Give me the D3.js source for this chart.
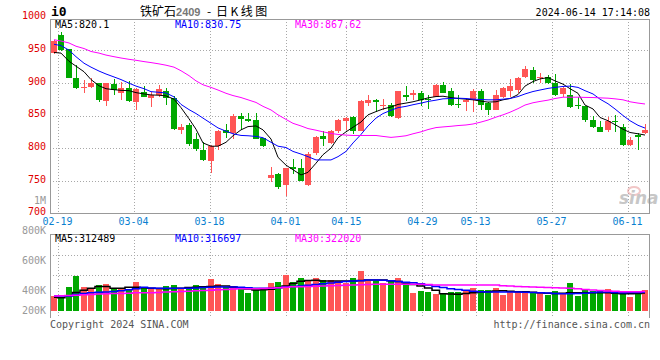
<!DOCTYPE html>
<html>
<head>
<meta charset="utf-8">
<script src="https://cdn.jsdelivr.net/npm/d3@7/dist/d3.min.js"></script>
<style>
  body { margin: 0; background: #fff; }
  svg { display: block; }
  text { font-family: "DejaVu Sans Mono", monospace; font-size: 10px; }
</style>
</head>
<body>
<svg id="chart" width="660" height="360"></svg>
<script>
// daily bars, 2024-02-08 .. 2024-06-14
const dates = [
  "02-08", "02-19", "02-20", "02-21", "02-22", "02-23", "02-26", "02-27", "02-28", "02-29",
  "03-01", "03-04", "03-05", "03-06", "03-07", "03-08", "03-11", "03-12", "03-13", "03-14",
  "03-15", "03-18", "03-19", "03-20", "03-21", "03-22", "03-25", "03-26", "03-27", "03-28",
  "03-29", "04-01", "04-02", "04-03", "04-08", "04-09", "04-10", "04-11", "04-12", "04-15",
  "04-16", "04-17", "04-18", "04-19", "04-22", "04-23", "04-24", "04-25", "04-26", "04-29",
  "04-30", "05-06", "05-07", "05-08", "05-09", "05-10", "05-13", "05-14", "05-15", "05-16",
  "05-17", "05-20", "05-21", "05-22", "05-23", "05-24", "05-27", "05-28", "05-29", "05-30",
  "05-31", "06-03", "06-04", "06-05", "06-06", "06-07", "06-11", "06-12", "06-13", "06-14"
];

const open = [
  945, 973, 951.5, 907, 893, 893, 899.5, 871.5, 898.5, 885,
  892, 870, 886.5, 876.5, 881.5, 888, 877.5, 827.5, 836, 813.5,
  796.5, 780.5, 804, 828.5, 823.5, 848.5, 845, 843.5, 815, 755,
  761, 744, 770.5, 769.5, 744, 793, 818.5, 808, 827, 841,
  847.5, 827, 869, 874, 865, 866.5, 846, 881, 881.5, 884,
  875.5, 879, 897, 887.5, 867.5, 870, 874, 887.5, 869, 859,
  878, 888, 889, 908.5, 919.5, 907, 909.5, 899.5, 883, 881.5,
  866.5, 864, 842.5, 832.5, 828.5, 841, 832.5, 805.5, 820, 822.5
];
const high = [
  965, 978, 952, 927, 904.5, 908, 900.5, 900, 905.5, 902,
  903, 892, 895.5, 886.5, 896.5, 892, 880, 837.5, 838.5, 823.5,
  809, 805.5, 828.5, 837.5, 852.5, 854, 854, 854, 816, 771.5,
  762.5, 769.5, 783, 783, 794.5, 818.5, 826, 828.5, 844.5, 847,
  848.5, 874, 881.5, 875.5, 875.5, 869, 887.5, 895.5, 889, 887.5,
  881.5, 898.5, 902, 892, 881.5, 877.5, 890.5, 890.5, 870, 889,
  893, 905.5, 908.5, 925.5, 924.5, 915.5, 912, 913.5, 895.5, 898.5,
  879, 865, 850, 842, 847.5, 851.5, 837.5, 817, 823.5, 837.5
];
const low = [
  944, 949, 907, 891, 885, 892, 870, 864, 881.5, 874,
  870, 859, 878, 863, 879, 866.5, 828.5, 821, 803, 795.5,
  780.5, 761.5, 797, 816, 813.5, 828.5, 839.5, 813.5, 802, 747.5,
  737.5, 727, 760, 749, 742.5, 789, 804, 807, 823.5, 828.5,
  821, 826, 865, 855, 859, 847, 844.5, 871.5, 874, 865,
  860.5, 878, 884, 864, 861.5, 856.5, 855, 858, 850.5, 858,
  876.5, 878, 884, 907, 900.5, 899.5, 898.5, 880, 878, 861.5,
  860, 839.5, 831, 824.5, 824.5, 824.5, 804, 804, 797, 821
];
const close = [
  964, 950, 908, 892, 893.5, 900.5, 874, 899.5, 889, 892,
  871.5, 890.5, 879, 881.5, 891, 876.5, 830, 832, 807, 798,
  781.5, 804, 827, 823.5, 850, 844.5, 841, 814.5, 804, 758.5,
  740, 769.5, 767.5, 750, 791.5, 817, 814.5, 827, 843.5, 846,
  827, 871.5, 874, 870, 866.5, 848.5, 887.5, 878, 885, 874,
  873.5, 897, 885, 865.5, 866, 874, 887.5, 865.5, 858, 881.5,
  892, 895.5, 908, 920.5, 904.5, 908.5, 899.5, 881.5, 892, 863,
  864, 842.5, 832.5, 824.5, 841, 839.5, 805.5, 812, 817.5, 828.5
];

const ma5 = [
  946.5, 945.5, 933, 925.5, 917, 905, 895.5, 891, 889.5, 888.5,
  888, 885, 883, 881.5, 881, 880, 875, 862, 845, 829,
  808, 803, 803, 809, 819, 828, 833, 834, 828, 814,
  786, 774, 767, 759, 763, 777, 790, 800, 816, 825,
  832, 840, 851, 856, 860, 863, 867, 869, 871, 874,
  877, 879, 879.5, 877.5, 876, 875, 874, 872, 870.5, 871,
  874, 876, 882, 895, 902, 906, 908, 903, 898, 891,
  884, 866, 860, 847, 842, 836, 829, 824, 822, 820.1
];
const ma10 = [
  959, 957, 950, 940, 930, 924, 918, 913.5, 909, 905,
  899.5, 895, 891, 886.5, 885.5, 884.5, 878.5, 867, 859, 853,
  846, 838, 831, 826, 822, 819.5, 819, 818, 816, 809,
  803, 801, 795, 791, 787, 782, 782, 782, 787, 795,
  808, 821, 834, 846, 853, 858, 862, 864, 866.5, 869,
  871.5, 873.5, 875.5, 876, 876.5, 876, 875, 874.5, 874, 874,
  875, 876, 879, 883, 886.7, 889, 891.5, 893, 894.5, 895,
  893, 888, 883, 875, 868, 860, 850, 842, 835, 830.75
];
const ma30 = [
  966, 964, 961, 956, 952.5, 948, 945.5, 942.5, 940, 938,
  936, 934.5, 932.5, 931, 929, 927, 924, 918.5, 911, 903,
  897, 893, 889, 884, 880.5, 877.5, 874, 870, 864, 858.5,
  851, 844, 838, 834, 830, 827.5, 825, 822.5, 821, 820,
  819.4, 819.4, 819.4, 819.4, 818, 816.5, 817.5, 819, 822, 825,
  828.5, 831.5, 832.5, 833.5, 834.6, 835.5, 837, 840, 843, 847.5,
  851, 855, 860.5, 866, 869.5, 871.5, 873.5, 876, 878, 878,
  878, 877.7, 877.5, 877, 876.5, 875.5, 874, 871, 869, 867.62
];

// volume, thousand lots
const volume = [
  292, 285, 352, 425, 352, 337, 365, 374, 337, 347,
  341, 385, 347, 341, 341, 359, 365, 341, 352, 365,
  359, 407, 374, 352, 359, 337, 314, 337, 337, 380,
  385, 432, 385, 414, 396, 414, 396, 396, 392, 380,
  414, 458, 392, 392, 380, 392, 414, 380, 314, 325,
  321, 303, 303, 321, 321, 332, 347, 332, 332, 347,
  299, 325, 325, 314, 321, 310, 299, 325, 303, 380,
  292, 341, 325, 325, 341, 310, 310, 288, 320, 335
];
const volMa5 = [
  284, 280, 293, 315, 330, 343, 356, 356, 344, 344,
  351, 350, 347, 344, 342, 341, 342, 344, 348, 351,
  353, 355, 358, 358, 352, 345, 338, 332, 334, 337,
  348, 359, 375, 390, 396, 397, 392, 392, 392, 392,
  392, 396, 399, 399, 399, 394, 388, 378, 368, 358,
  346, 330, 307, 305, 303, 309, 314, 318, 321, 325,
  327, 324, 321, 320, 317, 314, 311, 308, 310, 313,
  314, 314, 314, 314, 314, 310, 307, 307, 308, 312.5
];
const volMa10 = [
  292, 292, 292, 302, 309, 314, 317, 318, 322, 327,
  333, 340, 350, 346, 344, 344, 344, 344, 344, 346,
  348, 350, 352, 352, 352, 350, 347, 344, 344, 344,
  347, 352, 355, 359, 364, 369, 373, 378, 384, 388,
  392, 394, 398, 399, 397, 393, 389, 384, 380, 374,
  365, 355, 348, 341, 336, 330, 323, 321, 319, 318,
  318, 318, 318, 317, 316, 314, 312, 309, 307, 307,
  308, 311, 315, 318, 318, 316, 314, 315, 316, 316.7
];
const volMa30 = [
  292, 293, 295, 297, 300, 302, 305, 307, 308, 309,
  311, 313, 314, 314, 315, 318, 320, 322, 324, 327,
  329, 331, 333, 336, 338, 340, 341, 341, 342, 344,
  347, 351, 353, 354, 355, 357, 359, 360, 362, 364,
  365, 367, 369, 370, 370, 370, 370, 370, 370, 370,
  368, 366, 366, 366, 366, 366, 366, 366, 366, 365,
  361, 359, 356, 354, 352, 351, 349, 347, 345, 343,
  340, 336, 332, 329, 326, 324, 321, 320, 321, 322
];

const priceTicks = [700, 750, 800, 850, 900, 950, 1000];
const priceGrid = [750, 800, 850, 900, 950];
const volTicks = [1000, 800, 600, 400, 200];
const volTickLabels = ["1M", "800K", "600K", "400K", "200K"];
const dateTicks = ["02-19", "03-04", "03-18", "04-01", "04-15", "04-29", "05-13", "05-27", "06-11"];

const priceLegend = ["MA5:820.1", "MA10:830.75", "MA30:867.62"];
const volLegend = ["MA5:312489", "MA10:316697", "MA30:322020"];
const maColors = ["#000000", "#0000ff", "#ff00ff"];

const UP = "#ff5555";
const DOWN = "#00a800";
const GRID = "#a8a8a8";
const FRAME = "#999999";

const LEFT = 50;
const RIGHT = 649;
const TOP = 19;
const BOTTOM = 213.5;
const VTOP = 234;
const VBASE = 311;
const VBOTTOM = 318;

const svg = d3.select("#chart");

const x = d3.scaleBand()
  .domain(dates)
  .range([LEFT, RIGHT])
  .paddingInner(0.2)
  .paddingOuter(0.1);
const bw = Math.round(x.bandwidth());
const cx = d => Math.round(x(d)) + bw / 2;

// the date grid is spaced a little wider than the bars
const tickX = d3.scalePoint().domain(dates).range([LEFT, RIGHT + 1.4]);

const y = d3.scaleLinear().domain([700, 1000]).range([BOTTOM, 17.5]);
const vy = d3.scaleLinear().domain([192, 705]).range([VBASE, VTOP]);

// ---- grid
const grid = svg.append("g")
  .attr("stroke", GRID)
  .attr("stroke-dasharray", "1,2")
  .attr("shape-rendering", "crispEdges");

grid.selectAll(".hg")
  .data(priceGrid)
  .enter()
  .append("line")
  .attr("x1", LEFT)
  .attr("x2", RIGHT)
  .attr("y1", d => Math.round(y(d)) + 0.5)
  .attr("y2", d => Math.round(y(d)) + 0.5);

grid.selectAll(".vg")
  .data(dateTicks)
  .enter()
  .append("line")
  .attr("x1", d => Math.round(tickX(d)) + 0.5)
  .attr("x2", d => Math.round(tickX(d)) + 0.5)
  .attr("y1", TOP)
  .attr("y2", BOTTOM);

grid.selectAll(".vvg")
  .data(dateTicks)
  .enter()
  .append("line")
  .attr("x1", d => Math.round(tickX(d)) + 0.5)
  .attr("x2", d => Math.round(tickX(d)) + 0.5)
  .attr("y1", VTOP)
  .attr("y2", VBOTTOM);

grid.selectAll(".vhg")
  .data([255.5, 275.5])
  .enter()
  .append("line")
  .attr("x1", LEFT)
  .attr("x2", RIGHT)
  .attr("y1", d => d)
  .attr("y2", d => d);

// ---- frames
const frame = svg.append("g")
  .attr("stroke", FRAME)
  .attr("fill", "none")
  .attr("shape-rendering", "crispEdges");

frame.append("path")
  .attr("d", `M${LEFT + 0.5},${TOP + 0.5}H${RIGHT + 0.5}V${BOTTOM}H${LEFT + 0.5}Z`);
frame.append("path")
  .attr("d", `M${LEFT + 0.5},${VBOTTOM}V${VTOP + 0.5}H${RIGHT + 0.5}V${VBOTTOM}`);

// ---- watermark
const mark = svg.append("g").attr("opacity", 0.55);
mark.append("ellipse")
  .attr("cx", 634).attr("cy", 191).attr("rx", 6).attr("ry", 4)
  .attr("fill", "none").attr("stroke", "#e89a9a").attr("stroke-width", 2);
mark.append("text")
  .attr("x", 619).attr("y", 204)
  .attr("fill", "#9a9a9a")
  .style("font-family", "DejaVu Sans")
  .style("font-size", "17px")
  .style("font-weight", "bold")
  .style("font-style", "italic")
  .text("sina");

// ---- candles
const candles = svg.append("g").attr("shape-rendering", "crispEdges");
const colorOf = i => (close[i] >= open[i] ? UP : DOWN);

candles.selectAll(".wick")
  .data(dates)
  .enter()
  .append("line")
  .attr("x1", d => cx(d))
  .attr("x2", d => cx(d))
  .attr("y1", (d, i) => y(high[i]))
  .attr("y2", (d, i) => y(low[i]))
  .attr("stroke", (d, i) => colorOf(i));

candles.selectAll(".body")
  .data(dates)
  .enter()
  .append("rect")
  .attr("x", d => Math.round(x(d)))
  .attr("width", bw)
  .attr("y", (d, i) => y(Math.max(open[i], close[i])))
  .attr("height", (d, i) => Math.max(1, Math.abs(y(open[i]) - y(close[i]))))
  .attr("fill", (d, i) => colorOf(i));

// ---- price moving averages
const priceLine = d3.line()
  .x((d, i) => cx(dates[i]))
  .y(d => y(d));

[ma5, ma10, ma30].forEach((s, k) => {
  svg.append("path")
    .datum(s)
    .attr("fill", "none")
    .attr("stroke", maColors[k])
    .attr("stroke-width", 1)
    .attr("d", priceLine);
});

// ---- volume
svg.append("g")
  .attr("shape-rendering", "crispEdges")
  .selectAll("rect")
  .data(dates)
  .enter()
  .append("rect")
  .attr("x", d => Math.round(x(d)))
  .attr("width", bw)
  .attr("y", (d, i) => vy(volume[i]))
  .attr("height", (d, i) => VBASE - vy(volume[i]))
  .attr("fill", (d, i) => colorOf(i));

const volLine = d3.line()
  .x((d, i) => cx(dates[i]))
  .y(d => vy(d))
  .curve(d3.curveStep);

[volMa5, volMa10, volMa30].forEach((s, k) => {
  svg.append("path")
    .datum(s)
    .attr("fill", "none")
    .attr("stroke", maColors[k])
    .attr("stroke-width", 1.5)
    .attr("d", volLine);
});

// ---- axis labels
svg.append("g")
  .selectAll("text")
  .data(priceTicks)
  .enter()
  .append("text")
  .attr("x", 46)
  .attr("y", d => y(d) + 1.8)
  .attr("text-anchor", "end")
  .attr("fill", "#e00000")
  .text(d => d);

svg.append("g")
  .selectAll("text")
  .data(volTicks)
  .enter()
  .append("text")
  .attr("x", 46)
  .attr("y", d => Math.min(vy(d) + 14, 314))
  .attr("text-anchor", "end")
  .attr("fill", "#999")
  .text((d, i) => volTickLabels[i]);

svg.append("g")
  .selectAll("text")
  .data(dateTicks)
  .enter()
  .append("text")
  .attr("x", d => tickX(d))
  .attr("y", 225)
  .attr("text-anchor", "middle")
  .attr("fill", "#0a7fd0")
  .text(d => d);

// ---- legends
const legendX = [55, 175, 295];
priceLegend.forEach((t, k) => {
  svg.append("text")
    .attr("x", legendX[k])
    .attr("y", 28)
    .attr("fill", maColors[k])
    .text(t);
});
volLegend.forEach((t, k) => {
  svg.append("text")
    .attr("x", legendX[k])
    .attr("y", 242)
    .attr("fill", maColors[k])
    .text(t);
});

// ---- header / footer
svg.append("text")
  .attr("x", 51)
  .attr("y", 16)
  .style("font-size", "13px")
  .style("font-weight", "bold")
  .text("i0");

const title = svg.append("text")
  .attr("x", 140)
  .attr("y", 16)
  .style("font-family", "'Noto Sans CJK SC', sans-serif")
  .style("font-size", "12px");
title.append("tspan").text("铁矿石");
title.append("tspan")
  .attr("fill", "#777")
  .style("font-family", "'Liberation Sans', sans-serif")
  .style("font-size", "11px")
  .style("font-weight", "bold")
  .text("2409");
title.append("tspan").attr("x", 207).text("-");
title.append("tspan")
  .attr("x", 216)
  .style("letter-spacing", "2.5px")
  .text("日K线图");

svg.append("text")
  .attr("x", 650)
  .attr("y", 16)
  .attr("text-anchor", "end")
  .text("2024-06-14 17:14:08");

svg.append("text")
  .attr("x", 50)
  .attr("y", 328)
  .attr("fill", "#555")
  .text("Copyright 2024 SINA.COM");

svg.append("text")
  .attr("x", 650)
  .attr("y", 328)
  .attr("text-anchor", "end")
  .attr("fill", "#555")
  .text("http://finance.sina.com.cn");
</script>
</body>
</html>
